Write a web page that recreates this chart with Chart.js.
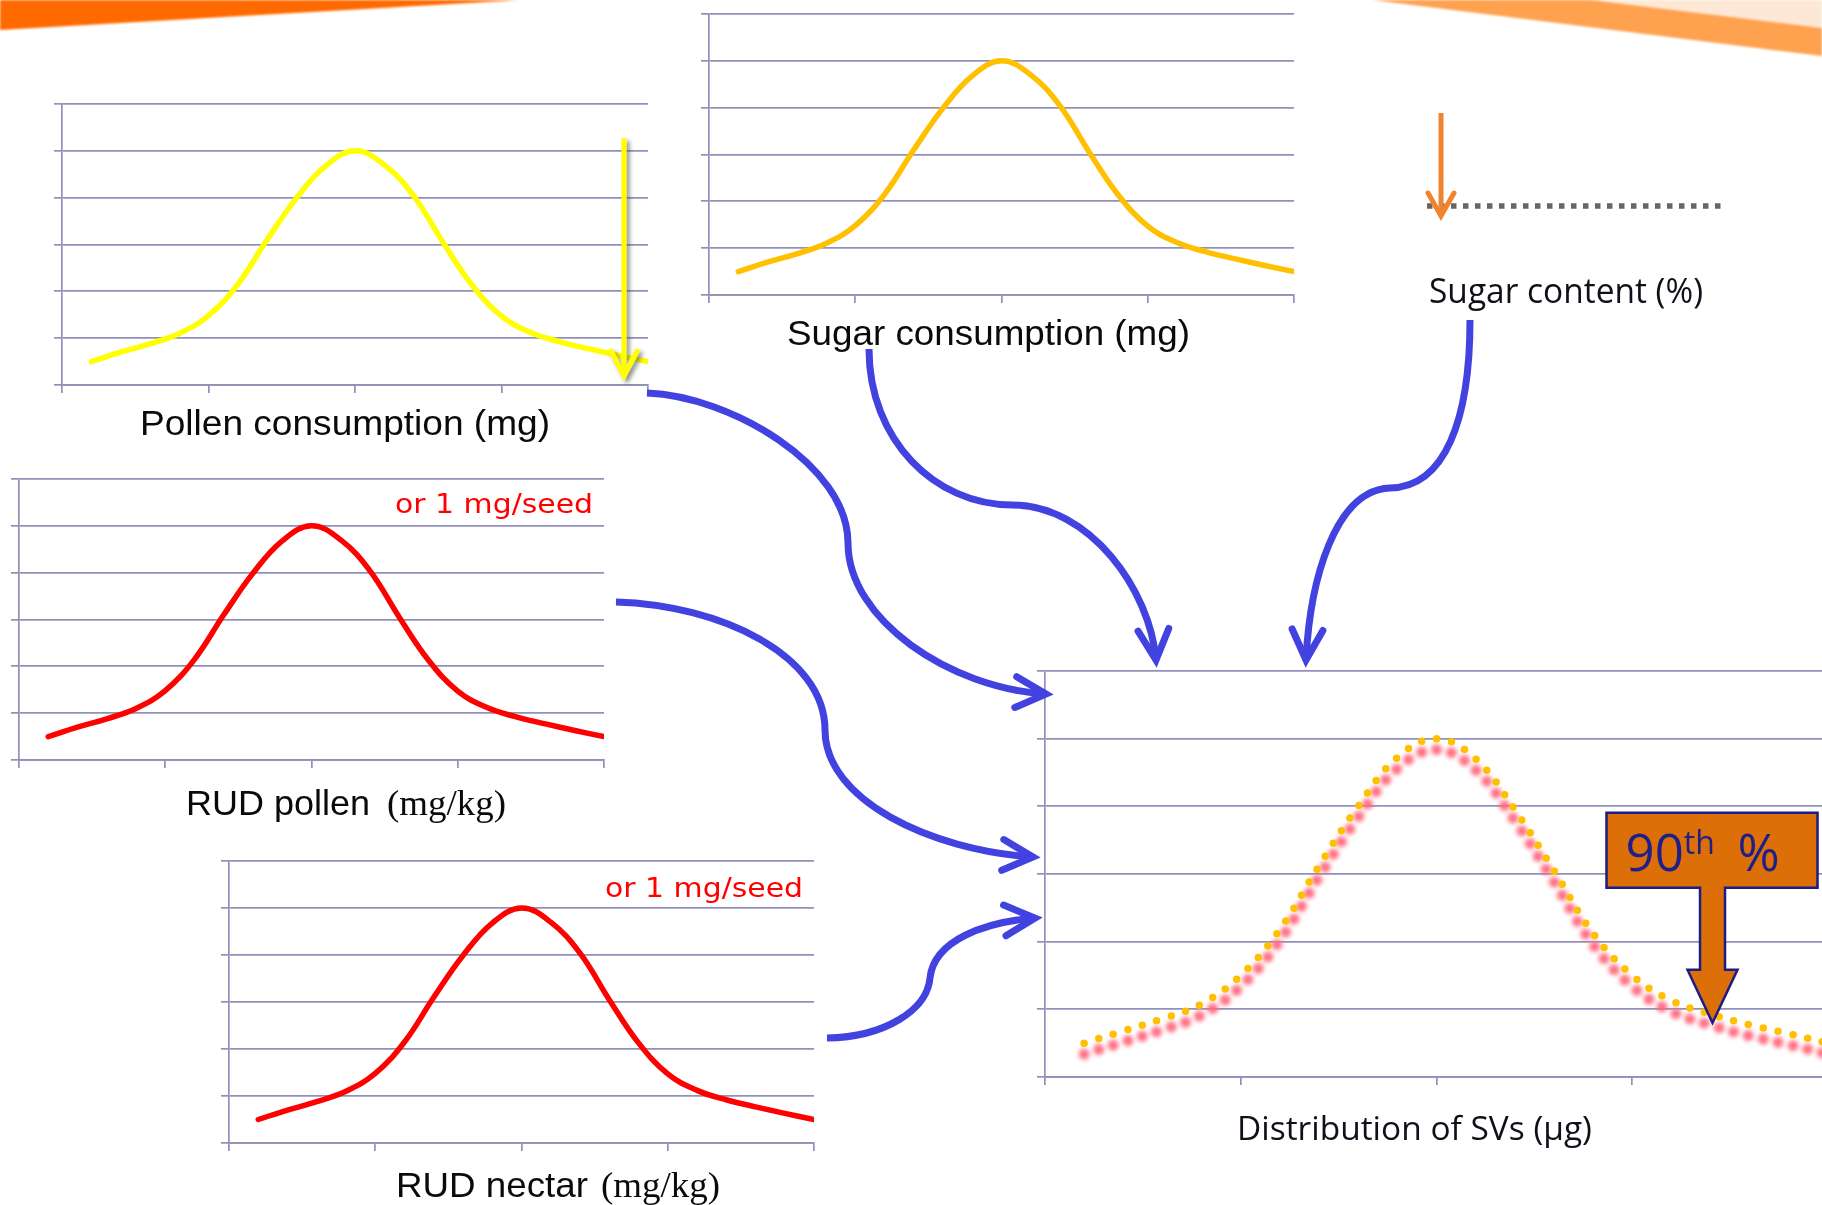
<!DOCTYPE html>
<html>
<head>
<meta charset="utf-8">
<script src="https://cdn.jsdelivr.net/npm/chart.js@4.4.1/dist/chart.umd.min.js"></script>
<style>
  html, body { margin: 0; padding: 0; background: #ffffff; }
  body { width: 1822px; height: 1205px; overflow: hidden; position: relative; }
  .panel { position: absolute; }
  .panel canvas { display: block; }
  svg.layer { position: absolute; left: 0; top: 0; }
</style>
</head>
<body>

<svg class="layer" id="backdrop" width="1822" height="1205">
  <defs>
    <filter id="soft" x="-5%" y="-50%" width="110%" height="200%"><feGaussianBlur stdDeviation="0.9"/></filter>
  </defs>
  <polygon points="0,0 520,0 0,30" fill="#FF6A00" filter="url(#soft)"/>
  <polygon points="1500,0 1822,0 1822,29" fill="#FDE8D6" filter="url(#soft)"/>
  <polygon points="1372,0 1590,0 1822,28 1822,56" fill="#FFA24F" filter="url(#soft)"/>
</svg>

<div class="panel" id="pollen-box"><canvas id="pollen"></canvas></div>
<div class="panel" id="sugar-box"><canvas id="sugar"></canvas></div>
<div class="panel" id="rudPollen-box"><canvas id="rudPollen"></canvas></div>
<div class="panel" id="rudNectar-box"><canvas id="rudNectar"></canvas></div>
<div class="panel" id="dist-box"><canvas id="dist"></canvas></div>

<svg class="layer" id="overlay" width="1822" height="1205">
  <defs>
    <filter id="dropShade" x="-50%" y="-10%" width="200%" height="120%">
      <feDropShadow dx="3" dy="3" stdDeviation="2" flood-color="#444" flood-opacity="0.6"/>
    </filter>
  </defs>

  <!-- labels -->
  <g font-family="'Liberation Sans', Arial, sans-serif" fill="#0a0a0a">
    <text x="140" y="435" font-size="35" textLength="410" lengthAdjust="spacingAndGlyphs">Pollen consumption (mg)</text>
    <text x="787" y="345" font-size="35" textLength="403" lengthAdjust="spacingAndGlyphs">Sugar consumption (mg)</text>
    <text x="186" y="815" font-size="35" textLength="184" lengthAdjust="spacingAndGlyphs">RUD pollen</text>
    <text x="396" y="1197" font-size="35" textLength="192" lengthAdjust="spacingAndGlyphs">RUD nectar</text>
  </g>
  <g font-family="'Liberation Serif', 'Times New Roman', serif" fill="#0a0a0a">
    <text x="387" y="815" font-size="36" textLength="119" lengthAdjust="spacingAndGlyphs">(mg/kg)</text>
    <text x="601" y="1197" font-size="36" textLength="119" lengthAdjust="spacingAndGlyphs">(mg/kg)</text>
  </g>
  <g font-family="'DejaVu Sans', Verdana, sans-serif" fill="#FF0000">
    <text x="395" y="513" font-size="26" textLength="198" lengthAdjust="spacingAndGlyphs">or 1 mg/seed</text>
    <text x="605" y="897" font-size="26" textLength="198" lengthAdjust="spacingAndGlyphs">or 1 mg/seed</text>
  </g>
  <g font-family="'Open Sans', 'Noto Sans', sans-serif" fill="#10101a">
    <text x="1429" y="303" font-size="35" textLength="274" lengthAdjust="spacingAndGlyphs">Sugar content (%)</text>
    <text x="1237" y="1140" font-size="33" textLength="355" lengthAdjust="spacingAndGlyphs">Distribution of SVs (μg)</text>
  </g>

  <!-- pollen cut-off marker -->
  <g stroke="#FFFF00" stroke-width="5" fill="none" filter="url(#dropShade)">
    <line x1="624" y1="138" x2="624" y2="374"/>
    <polyline points="611,351 624,376 637,351" stroke-linecap="round" stroke-linejoin="miter"/>
  </g>

  <!-- sugar content level -->
  <line x1="1427" y1="206" x2="1722" y2="206" stroke="#666666" stroke-width="5.5" stroke-dasharray="5.5 6.5"/>
  <g stroke="#F0842C" stroke-width="5" fill="none">
    <line x1="1441" y1="113" x2="1441" y2="213"/>
    <polyline points="1428,193 1441,216 1454,193" stroke-linecap="round" stroke-linejoin="miter"/>
  </g>

  <g id="flows" stroke="#4242E0" stroke-width="7" fill="none"></g>
  <g id="callout"></g>
</svg>

<script>
// ---- values of each bell curve (x along a 0–4 axis, y on a 0–6 grid) ----
const pollenX    = [0.2, 0.4, 0.6, 0.8, 1.0, 1.2, 1.4, 1.6, 1.8, 2.0, 2.2, 2.4, 2.6, 2.8, 3.0, 3.2, 3.4, 3.6, 3.8, 4.0];
const pollenY    = [0.5, 0.70, 0.88, 1.10, 1.48, 2.15, 3.10, 3.99, 4.68, 5.0, 4.70, 4.04, 3.05, 2.13, 1.47, 1.12, 0.92, 0.77, 0.63, 0.5];

const sugarX     = [0.2, 0.4, 0.6, 0.8, 1.0, 1.2, 1.4, 1.6, 1.8, 2.0, 2.2, 2.4, 2.6, 2.8, 3.0, 3.2, 3.4, 3.6, 3.8, 4.0];
const sugarY     = [0.5, 0.70, 0.88, 1.10, 1.48, 2.15, 3.10, 3.99, 4.68, 5.0, 4.70, 4.04, 3.05, 2.13, 1.47, 1.12, 0.92, 0.77, 0.63, 0.5];

const rudPollenX = [0.2, 0.4, 0.6, 0.8, 1.0, 1.2, 1.4, 1.6, 1.8, 2.0, 2.2, 2.4, 2.6, 2.8, 3.0, 3.2, 3.4, 3.6, 3.8, 4.0];
const rudPollenY = [0.5, 0.70, 0.88, 1.10, 1.48, 2.15, 3.10, 3.99, 4.68, 5.0, 4.70, 4.04, 3.05, 2.13, 1.47, 1.12, 0.92, 0.77, 0.63, 0.5];

const rudNectarX = [0.2, 0.4, 0.6, 0.8, 1.0, 1.2, 1.4, 1.6, 1.8, 2.0, 2.2, 2.4, 2.6, 2.8, 3.0, 3.2, 3.4, 3.6, 3.8, 4.0];
const rudNectarY = [0.5, 0.70, 0.88, 1.10, 1.48, 2.15, 3.10, 3.99, 4.68, 5.0, 4.70, 4.04, 3.05, 2.13, 1.47, 1.12, 0.92, 0.77, 0.63, 0.5];

const distX      = [0.2, 0.4, 0.6, 0.8, 1.0, 1.2, 1.4, 1.6, 1.8, 2.0, 2.2, 2.4, 2.6, 2.8, 3.0, 3.2, 3.4, 3.6, 3.8, 4.0];
const distY      = [0.5, 0.68, 0.86, 1.08, 1.50, 2.18, 3.12, 4.0, 4.72, 5.0, 4.70, 3.95, 3.05, 2.12, 1.50, 1.13, 0.93, 0.77, 0.64, 0.5];

// 90th percentile of the combined distribution (where the callout points)
const p90X = 3.41;
const p90Y = 0.80;

const xTicks = [0, 1, 2, 3, 4];
const yTicks = [0, 1, 2, 3, 4, 5, 6];

// ---- shared panel builder ----
const GRID_COLOR = '#9090BA';
const PAD = 4, TICK = 8;
const curve = (xs, ys) => xs.map((x, i) => ({ x, y: ys[i] }));

function buildPanel(id, area, datasets, plugins) {
  const box = document.getElementById(id + '-box');
  const canvas = document.getElementById(id);
  const w = (area.right - area.left) + PAD + TICK + PAD;
  const h = (area.bottom - area.top) + PAD + TICK + PAD;
  box.style.left = (area.left - PAD - TICK) + 'px';
  box.style.top = (area.top - PAD) + 'px';
  canvas.width = w; canvas.height = h;
  canvas.style.width = w + 'px'; canvas.style.height = h + 'px';
  return new Chart(canvas, {
    type: 'line',
    data: { datasets },
    options: {
      responsive: false,
      animation: false,
      devicePixelRatio: 1,
      events: [],
      layout: { padding: { left: PAD, right: PAD, top: PAD, bottom: PAD } },
      plugins: { legend: { display: false }, tooltip: { enabled: false } },
      scales: {
        x: {
          type: 'linear', min: xTicks[0], max: xTicks[xTicks.length - 1],
          afterFit: s => { s.height = TICK; },
          afterBuildTicks: s => { s.ticks = xTicks.map(v => ({ value: v })); },
          ticks: { display: false },
          grid: { drawOnChartArea: false, drawTicks: true, tickLength: TICK, color: GRID_COLOR, lineWidth: 1.7 },
          border: { display: true, color: GRID_COLOR, width: 1.7 }
        },
        y: {
          type: 'linear', min: yTicks[0], max: yTicks[yTicks.length - 1],
          afterFit: s => { s.width = TICK; },
          afterBuildTicks: s => { s.ticks = yTicks.map(v => ({ value: v })); },
          ticks: { display: false },
          grid: { drawTicks: true, tickLength: TICK, color: GRID_COLOR, lineWidth: 1.7 },
          border: { display: true, color: GRID_COLOR, width: 1.7 }
        }
      }
    },
    plugins: plugins || []
  });
}

function solidCurve(xs, ys, color) {
  return {
    data: curve(xs, ys), borderColor: color, borderWidth: 5.5,
    pointRadius: 0, fill: false, tension: 0.4,
    borderCapStyle: 'round', borderJoinStyle: 'round'
  };
}

buildPanel('pollen',    { left: 62,  right: 648, top: 104, bottom: 385 }, [solidCurve(pollenX, pollenY, '#FFFF00')]);
buildPanel('sugar',     { left: 709, right: 1294, top: 14, bottom: 295 }, [solidCurve(sugarX, sugarY, '#FFC000')]);
buildPanel('rudPollen', { left: 19,  right: 604, top: 479, bottom: 760 }, [solidCurve(rudPollenX, rudPollenY, '#FF0000')]);
buildPanel('rudNectar', { left: 229, right: 814, top: 861, bottom: 1143 }, [solidCurve(rudNectarX, rudNectarY, '#FF0000')]);

// blurred pink copy of the dotted curve, sitting just below it
const pinkShadow = {
  id: 'pinkShadow',
  beforeDatasetDraw(chart, args) {
    if (args.index !== 1) return;
    chart.ctx.save();
    chart.ctx.translate(0, 11);
    chart.ctx.filter = 'blur(2px)';
  },
  afterDatasetDraw(chart, args) {
    if (args.index !== 1) return;
    chart.ctx.restore();
  }
};

const distArea = { left: 1045, right: 1828, top: 671, bottom: 1077 };
const dist = buildPanel('dist', distArea, [
  {
    data: curve(distX, distY), borderColor: '#FFC000', borderWidth: 7.5,
    borderDash: [0, 15.2], borderCapStyle: 'round', pointRadius: 0, fill: false,
    tension: 0.4
  },
  {
    data: curve(distX, distY), borderColor: 'rgba(255,105,125,0.95)', borderWidth: 11,
    borderDash: [0, 15.2], borderCapStyle: 'round', pointRadius: 0, fill: false,
    tension: 0.4
  }
], [pinkShadow]);

// ---- flow arrows feeding the combined distribution ----
const SVGNS = 'http://www.w3.org/2000/svg';
const flows = [
  { d: 'M 647 393 C 730 396, 848 465, 848 543 C 848 620, 950 688, 1046 694', tip: [1046, 694], from: [950, 688] },
  { d: 'M 616 602 C 720 605, 825 655, 825 730 C 825 800, 930 850, 1033 857', tip: [1033, 857], from: [930, 850] },
  { d: 'M 827 1038 C 885 1037, 927 1010, 930 978 C 934 940, 985 922, 1035 918', tip: [1035, 918], from: [985, 922] },
  { d: 'M 869 349 C 869 440, 935 505, 1012 505 C 1090 505, 1150 590, 1156 660', tip: [1156, 660], from: [1150, 590] },
  { d: 'M 1470 320 C 1470 420, 1445 487, 1390 488 C 1335 490, 1310 580, 1306 660', tip: [1306, 660], from: [1310, 580] }
];
const flowLayer = document.getElementById('flows');
flows.forEach(f => {
  const p = document.createElementNS(SVGNS, 'path');
  p.setAttribute('d', f.d);
  flowLayer.appendChild(p);
  const ang = Math.atan2(f.tip[1] - f.from[1], f.tip[0] - f.from[0]);
  const len = 34, spread = 0.47;
  const a1 = [f.tip[0] - len * Math.cos(ang - spread), f.tip[1] - len * Math.sin(ang - spread)];
  const a2 = [f.tip[0] - len * Math.cos(ang + spread), f.tip[1] - len * Math.sin(ang + spread)];
  const head = document.createElementNS(SVGNS, 'polyline');
  head.setAttribute('points', `${a1[0]},${a1[1]} ${f.tip[0]},${f.tip[1]} ${a2[0]},${a2[1]}`);
  head.setAttribute('stroke-linecap', 'round');
  head.setAttribute('stroke-linejoin', 'miter');
  flowLayer.appendChild(head);
});

// ---- 90th percentile callout, anchored on the distribution's scales ----
(function drawCallout() {
  const box = document.getElementById('dist-box');
  const ox = parseFloat(box.style.left), oy = parseFloat(box.style.top);
  const tx = ox + dist.scales.x.getPixelForValue(p90X);
  const ty = oy + dist.scales.y.getPixelForValue(p90Y);
  const L = tx - 106, R = tx + 105, T = ty - 210, B = ty - 135;
  const stem = 12.5, headW = 25, headTop = ty - 53;
  const g = document.getElementById('callout');
  const shape = document.createElementNS(SVGNS, 'path');
  shape.setAttribute('d',
    `M ${L} ${T} L ${R} ${T} L ${R} ${B} L ${tx + stem} ${B} L ${tx + stem} ${headTop} ` +
    `L ${tx + headW} ${headTop} L ${tx} ${ty} L ${tx - headW} ${headTop} L ${tx - stem} ${headTop} ` +
    `L ${tx - stem} ${B} L ${L} ${B} Z`);
  shape.setAttribute('fill', '#DD6F09');
  shape.setAttribute('stroke', '#1C1C86');
  shape.setAttribute('stroke-width', '2.5');
  shape.setAttribute('stroke-linejoin', 'miter');
  g.appendChild(shape);

  const text = document.createElementNS(SVGNS, 'text');
  text.setAttribute('font-family', "'Open Sans', 'Noto Sans', sans-serif");
  text.setAttribute('fill', '#1F1F8A');
  const base = ty - 152;
  const t1 = document.createElementNS(SVGNS, 'tspan');
  t1.setAttribute('x', tx - 87); t1.setAttribute('y', base); t1.setAttribute('font-size', '51');
  t1.textContent = '90';
  const t2 = document.createElementNS(SVGNS, 'tspan');
  t2.setAttribute('y', base - 17); t2.setAttribute('font-size', '32');
  t2.textContent = 'th';
  const t3 = document.createElementNS(SVGNS, 'tspan');
  t3.setAttribute('x', tx + 25); t3.setAttribute('y', base); t3.setAttribute('font-size', '51');
  t3.textContent = '%';
  text.appendChild(t1); text.appendChild(t2); text.appendChild(t3);
  g.appendChild(text);
})();
</script>
</body>
</html>
